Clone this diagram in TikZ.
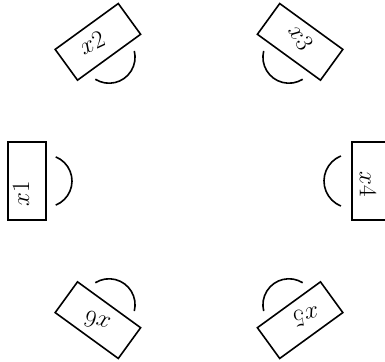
\documentclass[tikz,border=0pt]{standalone}
\usepackage{amsmath}
\begin{document}
\begin{tikzpicture}[x=1pt,y=1pt,line width=1.6pt]
  \tikzset{seat/.style={draw,minimum width=78pt,minimum height=38pt,inner sep=0pt}}
  \tikzset{name tag/.style={font=\fontsize{26}{26}\selectfont,inner sep=0pt}}
  \useasboundingbox (-199,-180) rectangle (186,181);
  % seats round the table
  \node[seat,rotate=270] (S1) at (180:172) {};
  \node[seat,rotate=216] (S2) at (126:172) {};
  \node[seat,rotate=144] (S3) at (54:172) {};
  \node[seat,rotate=90] (S4) at (0:172) {};
  \node[seat,rotate=36] (S5) at (-54:172) {};
  \node[seat,rotate=-36] (S6) at (-126:172) {};
  % names
  \node[name tag,rotate=90] (L1) at (-178,-13) {$x1$};
  \node[name tag,rotate=25] (L2) at (-107,138) {$x2$};
  \node[name tag,rotate=-60] (L3) at (102,144) {$x3$};
  \node[name tag,rotate=-90] (L4) at (169,-3) {$x4$};
  \node[name tag,rotate=-170] (L5) at (107,-136) {$x5$};
  \node[name tag,rotate=162] (L6) at (-102,-141) {$x6$};
  % half rounds facing the middle
  \draw[shift={(180:153)}] (292:26) arc[start angle=292, end angle=428, radius=26];
  \draw[shift={(126:153)}] (238:26) arc[start angle=238, end angle=374, radius=26];
  \draw[shift={(54:153)}] (166:26) arc[start angle=166, end angle=302, radius=26];
  \draw[shift={(0:152)}] (112:27) arc[start angle=112, end angle=248, radius=27];
  \draw[shift={(-54:153)}] (58:26) arc[start angle=58, end angle=194, radius=26];
  \draw[shift={(-126:153)}] (-14:26) arc[start angle=-14, end angle=122, radius=26];
\end{tikzpicture}
\end{document}
